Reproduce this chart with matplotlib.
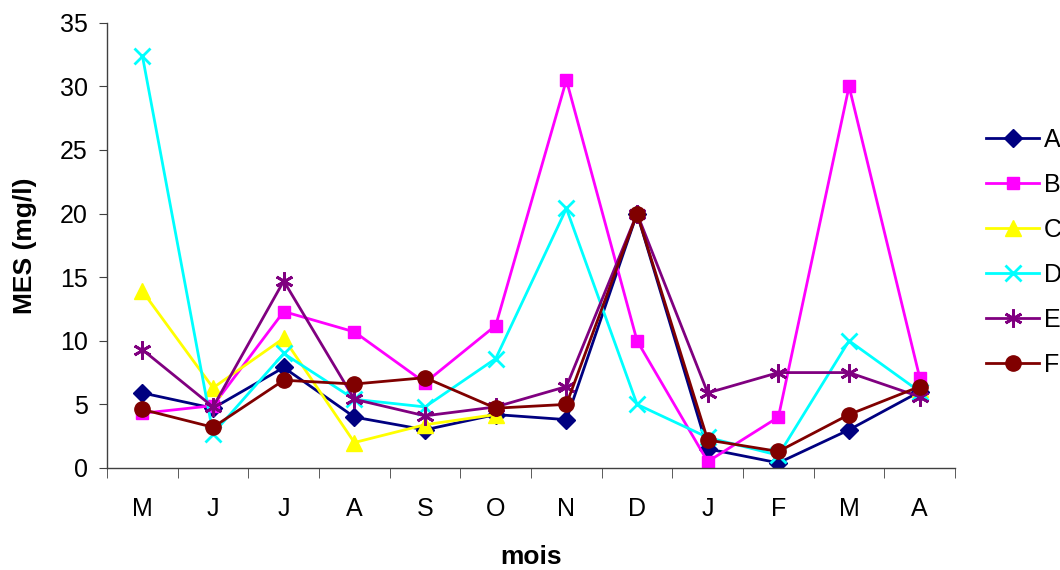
import numpy as np
import matplotlib
matplotlib.use('Agg')
import matplotlib.pyplot as plt

plt.rcParams['font.family'] = ['Liberation Sans', 'DejaVu Sans']

# Donnees MES (mg/l) par mois
mois = ['M', 'J', 'J', 'A', 'S', 'O', 'N', 'D', 'J', 'F', 'M', 'A']
nan = np.nan
serie_a = [5.9, 4.7, 7.9, 4.0, 3.0, 4.2, 3.8, 20.0, 1.5, 0.4, 3.0, 6.0]
serie_b = [4.3, 4.9, 12.3, 10.7, 6.7, 11.2, 30.5, 10.0, 0.5, 4.0, 30.0, 7.1]
serie_c = [13.9, 6.3, 10.2, 2.0, 3.4, 4.2, nan, nan, nan, nan, nan, 6.2]
serie_d = [32.4, 2.7, 9.0, 5.4, 4.8, 8.6, 20.4, 5.0, 2.4, 1.0, 10.0, 6.0]
serie_e = [9.3, 4.8, 14.7, 5.4, 4.1, 4.8, 6.4, 20.0, 5.9, 7.5, 7.5, 5.6]
serie_f = [4.6, 3.2, 6.9, 6.6, 7.1, 4.7, 5.0, 20.0, 2.2, 1.3, 4.2, 6.4]
noms = ['A', 'B', 'C', 'D', 'E', 'F']

styles = [
    ('#000080', 'D', 9),
    ('#FF00FF', 's', 9),
    ('#FFFF00', '^', 11),
    ('#00FFFF', 'x', 11),
    ('#800080', (6, 2, 0), 13),
    ('#800000', 'o', 11),
]

fig = plt.figure(figsize=(10.6, 5.7), dpi=100)
ax = fig.add_axes([0.101, 0.179, 0.800, 0.781])

x = np.arange(len(mois))
for serie, nom, (col, mk, ms) in zip([serie_a, serie_b, serie_c, serie_d, serie_e, serie_f], noms, styles):
    ax.plot(x, serie, color=col, marker=mk, markersize=ms, linewidth=2,
            markeredgewidth=2 if mk in ('x', (6, 2, 0)) else 1,
            markeredgecolor=col, label=nom)

ax.set_xlim(-0.5, len(mois) - 0.5)
ax.set_ylim(0, 35)
ax.set_yticks(np.arange(0, 36, 5))
ax.set_xticks(x)
ax.set_xticklabels(mois)
ax.set_xticks(np.arange(-0.5, len(mois), 1), minor=True)
ax.tick_params(axis='x', which='major', length=0, pad=21, labelsize=18)
ax.tick_params(axis='x', which='minor', length=7, direction='out', color='#404040')
ax.tick_params(axis='y', length=6, direction='out', pad=8, labelsize=18, color='#404040')

for s in ['top', 'right']:
    ax.spines[s].set_visible(False)
for s in ['left', 'bottom']:
    ax.spines[s].set_color('#404040')
    ax.spines[s].set_linewidth(1)

ax.set_ylabel('MES (mg/l)', fontsize=19, fontweight='bold', labelpad=16)
ax.set_xlabel('mois', fontsize=19, fontweight='bold', labelpad=17)

fig.legend(loc='center left', bbox_to_anchor=(0.921, 0.557), frameon=False,
           fontsize=18, handlelength=2.1, labelspacing=0.84, handletextpad=0.2,
           borderaxespad=0)

fig.savefig('out.png', dpi=100)
